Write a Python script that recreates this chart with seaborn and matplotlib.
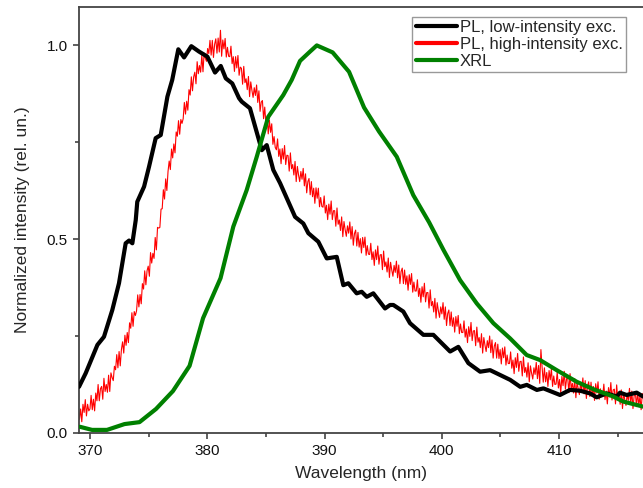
import numpy as np
import pandas as pd
import matplotlib
matplotlib.use("Agg")
import matplotlib.pyplot as plt
import seaborn as sns
from matplotlib.ticker import MultipleLocator, FormatStrFormatter

# ---------------- data ----------------
pl_low_wl = [369.06, 369.63, 370.63, 371.19, 371.90, 372.47, 373.04, 373.33, 373.61, 373.90,
             374.03, 374.61, 375.03, 375.60, 376.03, 376.60, 377.01, 377.53, 378.02, 378.64,
             379.30, 380.01, 380.66, 381.15, 381.58, 382.13, 382.71, 382.94, 383.64, 384.65,
             385.07, 385.63, 386.21, 387.49, 388.19, 388.62, 389.47, 390.19, 391.04, 391.60,
             392.03, 392.74, 393.17, 393.60, 394.16, 395.16, 395.59, 395.87, 396.72, 397.29,
             398.43, 399.28, 400.71, 401.41, 402.27, 403.27, 404.12, 405.83, 406.69, 407.25,
             408.11, 408.67, 410.08, 410.93, 411.79, 412.64, 413.21, 414.06, 414.92, 415.20,
             415.76, 416.62, 417.17]
pl_low_int = [0.119, 0.154, 0.227, 0.248, 0.317, 0.386, 0.489, 0.496, 0.489, 0.549,
              0.596, 0.635, 0.686, 0.760, 0.768, 0.867, 0.910, 0.989, 0.968, 0.997,
              0.983, 0.970, 0.929, 0.946, 0.914, 0.901, 0.863, 0.854, 0.837, 0.729,
              0.742, 0.678, 0.644, 0.557, 0.540, 0.515, 0.493, 0.450, 0.454, 0.381,
              0.386, 0.360, 0.364, 0.351, 0.360, 0.321, 0.330, 0.330, 0.313, 0.283,
              0.253, 0.253, 0.210, 0.222, 0.180, 0.158, 0.162, 0.137, 0.119, 0.124,
              0.111, 0.115, 0.098, 0.111, 0.109, 0.102, 0.092, 0.102, 0.094, 0.104,
              0.098, 0.104, 0.094]

xrl_wl = [369.14, 370.17, 371.45, 372.94, 374.22, 375.63, 377.07, 378.49, 379.64, 381.13,
          382.22, 383.36, 384.22, 385.20, 386.48, 387.20, 387.91, 388.76, 389.34, 390.69,
          392.09, 393.37, 394.65, 396.16, 397.57, 398.92, 400.14, 401.56, 402.98, 404.40,
          405.82, 407.24, 408.38, 409.80, 411.51, 412.92, 414.63, 415.48, 417.17]
xrl_int = [0.016, 0.008, 0.008, 0.023, 0.028, 0.062, 0.108, 0.173, 0.296, 0.399,
           0.532, 0.626, 0.712, 0.815, 0.871, 0.910, 0.959, 0.983, 0.999, 0.981,
           0.931, 0.839, 0.777, 0.712, 0.613, 0.543, 0.472, 0.394, 0.334, 0.283,
           0.244, 0.201, 0.188, 0.162, 0.132, 0.113, 0.094, 0.081, 0.068]

# high-intensity PL: densely sampled, noisy spectrum (369.0 ... 417.1 nm)
pl_high_start, pl_high_end = 369.0, 417.1
pl_high_int = [
    0.068, 0.035, 0.062, 0.029, 0.074, 0.053, 0.086, 0.044, 0.074, 0.057,
    0.062, 0.097, 0.060, 0.087, 0.057, 0.103, 0.083, 0.125, 0.083, 0.114,
    0.120, 0.087, 0.141, 0.107, 0.125, 0.105, 0.149, 0.107, 0.155, 0.143,
    0.135, 0.172, 0.163, 0.202, 0.168, 0.210, 0.173, 0.215, 0.235, 0.206,
    0.252, 0.226, 0.259, 0.233, 0.284, 0.270, 0.310, 0.275, 0.313, 0.303,
    0.315, 0.356, 0.325, 0.357, 0.333, 0.385, 0.371, 0.418, 0.382, 0.418,
    0.430, 0.404, 0.465, 0.438, 0.463, 0.450, 0.504, 0.472, 0.530, 0.528,
    0.530, 0.577, 0.578, 0.627, 0.603, 0.655, 0.625, 0.674, 0.701, 0.679,
    0.732, 0.709, 0.745, 0.722, 0.776, 0.765, 0.805, 0.770, 0.808, 0.798,
    0.810, 0.852, 0.822, 0.855, 0.832, 0.885, 0.871, 0.918, 0.882, 0.918,
    0.930, 0.900, 0.957, 0.926, 0.947, 0.930, 0.974, 0.931, 0.979, 0.966,
    0.958, 0.991, 0.978, 1.012, 0.974, 1.012, 0.968, 1.002, 1.016, 0.979,
    1.018, 0.982, 1.038, 0.971, 1.013, 0.990, 1.017, 0.969, 0.994, 0.971,
    0.970, 0.997, 0.952, 0.970, 0.932, 0.970, 0.941, 0.973, 0.922, 0.943,
    0.940, 0.899, 0.945, 0.903, 0.913, 0.885, 0.919, 0.867, 0.905, 0.883,
    0.865, 0.890, 0.870, 0.897, 0.852, 0.882, 0.829, 0.853, 0.857, 0.810,
    0.840, 0.797, 0.814, 0.771, 0.806, 0.775, 0.797, 0.744, 0.764, 0.736,
    0.730, 0.758, 0.713, 0.732, 0.694, 0.733, 0.706, 0.741, 0.692, 0.716,
    0.715, 0.675, 0.722, 0.681, 0.692, 0.665, 0.700, 0.648, 0.687, 0.665,
    0.648, 0.674, 0.654, 0.682, 0.637, 0.668, 0.619, 0.648, 0.656, 0.614,
    0.648, 0.609, 0.631, 0.592, 0.632, 0.605, 0.631, 0.583, 0.607, 0.584,
    0.582, 0.611, 0.567, 0.587, 0.550, 0.590, 0.564, 0.598, 0.550, 0.573,
    0.573, 0.533, 0.580, 0.538, 0.549, 0.522, 0.557, 0.506, 0.545, 0.524,
    0.507, 0.534, 0.515, 0.544, 0.500, 0.532, 0.484, 0.514, 0.523, 0.482,
    0.517, 0.479, 0.501, 0.464, 0.504, 0.478, 0.505, 0.458, 0.483, 0.461,
    0.460, 0.489, 0.447, 0.467, 0.432, 0.472, 0.447, 0.482, 0.435, 0.459,
    0.460, 0.421, 0.469, 0.429, 0.441, 0.415, 0.451, 0.401, 0.440, 0.420,
    0.404, 0.432, 0.414, 0.443, 0.400, 0.433, 0.385, 0.416, 0.425, 0.385,
    0.420, 0.383, 0.405, 0.368, 0.408, 0.383, 0.411, 0.363, 0.389, 0.366,
    0.366, 0.395, 0.352, 0.373, 0.337, 0.377, 0.351, 0.386, 0.338, 0.362,
    0.362, 0.322, 0.369, 0.328, 0.339, 0.312, 0.347, 0.296, 0.336, 0.315,
    0.298, 0.325, 0.307, 0.336, 0.293, 0.325, 0.277, 0.308, 0.317, 0.277,
    0.312, 0.275, 0.297, 0.260, 0.300, 0.275, 0.303, 0.256, 0.281, 0.259,
    0.259, 0.289, 0.247, 0.268, 0.233, 0.274, 0.249, 0.285, 0.238, 0.263,
    0.264, 0.225, 0.273, 0.234, 0.246, 0.220, 0.256, 0.206, 0.246, 0.226,
    0.210, 0.238, 0.220, 0.250, 0.207, 0.240, 0.193, 0.224, 0.233, 0.193,
    0.229, 0.192, 0.215, 0.178, 0.219, 0.194, 0.222, 0.175, 0.201, 0.179,
    0.179, 0.209, 0.167, 0.188, 0.153, 0.194, 0.169, 0.205, 0.159, 0.184,
    0.185, 0.147, 0.196, 0.156, 0.169, 0.144, 0.181, 0.132, 0.173, 0.154,
    0.139, 0.168, 0.151, 0.182, 0.140, 0.174, 0.128, 0.215, 0.170, 0.131,
    0.168, 0.132, 0.156, 0.120, 0.161, 0.137, 0.166, 0.120, 0.147, 0.125,
    0.126, 0.157, 0.116, 0.138, 0.104, 0.146, 0.122, 0.159, 0.113, 0.140,
    0.142, 0.104, 0.153, 0.114, 0.128, 0.103, 0.140, 0.091, 0.132, 0.114,
    0.099, 0.128, 0.111, 0.142, 0.101, 0.135, 0.089, 0.121, 0.132, 0.094,
    0.131, 0.095, 0.120, 0.084, 0.127, 0.103, 0.132, 0.087, 0.114, 0.094,
    0.095, 0.126, 0.086, 0.108, 0.075, 0.117, 0.093, 0.130, 0.085, 0.111,
    0.113, 0.075, 0.124, 0.086, 0.099, 0.074, 0.111, 0.063, 0.104, 0.085,
    0.071, 0.100, 0.084, 0.115, 0.074, 0.108, 0.063, 0.095, 0.107, 0.068,
    0.106, 0.071, 0.095, 0.060, 0.102,
]
pl_high_wl = np.linspace(pl_high_start, pl_high_end, len(pl_high_int))

labels = ["PL, low-intensity exc.", "PL, high-intensity exc.", "XRL"]
colors = ["#000000", "#ff0000", "#008000"]
x_ticks = [370, 380, 390, 400, 410]
y_ticks = [0.0, 0.5, 1.0]

# ---------------- figure ----------------
sns.set_style("ticks")
plt.rcParams["font.family"] = ["Liberation Sans", "DejaVu Sans"]

fig = plt.figure(figsize=(6.43, 4.88), dpi=100)
ax = fig.add_axes([79 / 643, 55 / 488, 1 - 79 / 643, 426 / 488])

df_low = pd.DataFrame({"wl": pl_low_wl, "I": pl_low_int})
df_high = pd.DataFrame({"wl": pl_high_wl, "I": pl_high_int})
df_xrl = pd.DataFrame({"wl": xrl_wl, "I": xrl_int})

sns.lineplot(data=df_low, x="wl", y="I", ax=ax, color=colors[0], lw=3.0,
             estimator=None, sort=False, label=labels[0], zorder=3)
sns.lineplot(data=df_high, x="wl", y="I", ax=ax, color=colors[1], lw=0.8,
             estimator=None, sort=False, label=labels[1], zorder=2)
sns.lineplot(data=df_xrl, x="wl", y="I", ax=ax, color=colors[2], lw=3.0,
             estimator=None, sort=False, label=labels[2], zorder=4)

ax.set_xlim(369.06, 417.16)
ax.set_ylim(0, 1.098)
ax.set_xticks(x_ticks)
ax.set_yticks(y_ticks)
ax.yaxis.set_major_formatter(FormatStrFormatter("%.1f"))
ax.xaxis.set_minor_locator(MultipleLocator(5))
ax.yaxis.set_minor_locator(MultipleLocator(0.25))
ax.tick_params(which="major", direction="out", length=4.5, width=1.1,
               color="#333333", labelsize=11, labelcolor="#111111", pad=3.5)
ax.tick_params(which="minor", direction="out", length=2.8, width=1.1, color="#333333")

for side in ["left", "bottom", "top"]:
    ax.spines[side].set_color("#444444")
    ax.spines[side].set_linewidth(1.3)
ax.spines["right"].set_visible(False)
ax.spines["top"].set_visible(True)

ax.set_xlabel("Wavelength (nm)", fontsize=12.5, labelpad=6)
ax.set_ylabel("Normalized intensity (rel. un.)", fontsize=12.5, labelpad=12)

leg = ax.legend(loc="upper right", bbox_to_anchor=(0.970, 0.977), fontsize=12,
                frameon=True, fancybox=False, edgecolor="#808080",
                borderpad=0.2, labelspacing=0.12, handlelength=2.5,
                handletextpad=0.15, borderaxespad=0.0)
leg.get_frame().set_linewidth(1.0)
for h in leg.legend_handles:
    h.set_linewidth(3.0)

fig.savefig("out.png", dpi=100)
